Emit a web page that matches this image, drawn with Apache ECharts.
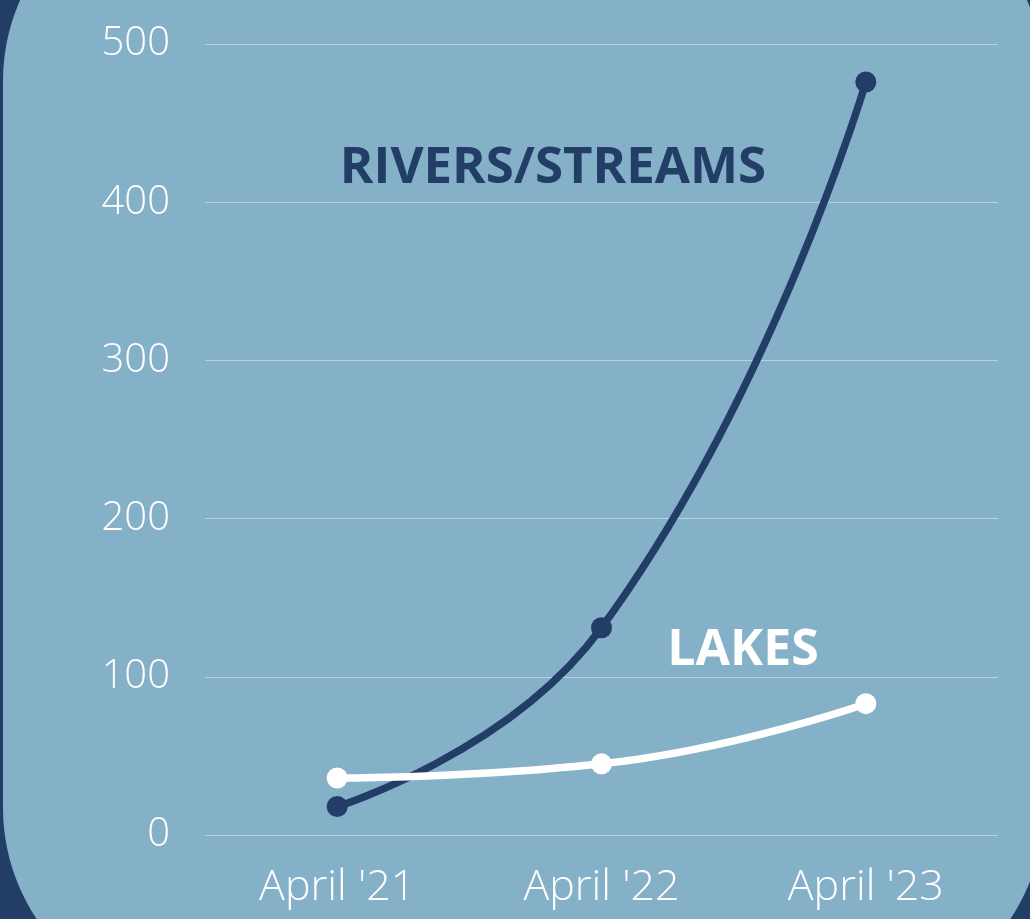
<!DOCTYPE html>
<html>
<head>
<meta charset="utf-8">
<script src="https://cdn.jsdelivr.net/npm/echarts@6/dist/echarts.min.js"></script>
<style>
  html, body { margin: 0; padding: 0; background: #223d66; }
  #main { width: 1030px; height: 919px; }
</style>
</head>
<body>
<div id="main"></div>
<script>
var categories = ["April '21", "April '22", "April '23"];
var riversStreams = [18, 131, 476];
var lakes = [36, 45, 83];
var yTicks = [0, 100, 200, 300, 400, 500];

var navy = '#223d66';
var panel = '#84b0c8';

var chart = echarts.init(document.getElementById('main'));

var option = {
    backgroundColor: navy,
    animation: false,
    graphic: [
        {
            type: 'rect',
            z: -10,
            shape: { x: 3, y: -119, width: 1041, height: 1127, r: 200 },
            style: { fill: panel }
        },
        {
            type: 'text',
            x: 553,
            y: 168,
            style: {
                text: 'RIVERS/STREAMS',
                fill: navy,
                font: 'bold 51px "Open Sans"',
                align: 'center',
                verticalAlign: 'middle'
            }
        },
        {
            type: 'text',
            x: 743,
            y: 651,
            style: {
                text: 'LAKES',
                fill: '#ffffff',
                font: 'bold 50px "Open Sans"',
                align: 'center',
                verticalAlign: 'middle'
            }
        }
    ],
    grid: { left: 205, right: 32, top: 44, bottom: 84 },
    xAxis: {
        type: 'category',
        data: categories,
        boundaryGap: true,
        axisLine: { show: false },
        axisTick: { show: false },
        axisLabel: {
            color: '#ffffff',
            fontFamily: 'Open Sans',
            fontWeight: 300,
            fontSize: 43,
            margin: 31
        }
    },
    yAxis: {
        type: 'value',
        min: 0,
        max: 500,
        interval: 100,
        axisLine: { show: false },
        axisTick: { show: false },
        splitLine: { lineStyle: { color: '#b3d2e2', width: 1 } },
        axisLabel: {
            color: '#ffffff',
            fontFamily: 'Open Sans',
            fontWeight: 300,
            fontSize: 40,
            margin: 35,
            padding: [8, 0, 0, 0],
            formatter: function (v) { return yTicks.indexOf(v) >= 0 ? String(v) : ''; }
        }
    },
    series: [
        {
            name: 'Rivers/Streams',
            type: 'line',
            data: riversStreams,
            smooth: 0.5,
            symbol: 'circle',
            symbolSize: 21,
            lineStyle: { color: navy, width: 7.5 },
            itemStyle: { color: navy }
        },
        {
            name: 'Lakes',
            type: 'line',
            data: lakes,
            smooth: 0.5,
            symbol: 'circle',
            symbolSize: 21,
            lineStyle: { color: '#ffffff', width: 7.5 },
            itemStyle: { color: '#ffffff' }
        }
    ]
};

chart.setOption(option);
</script>
</body>
</html>
